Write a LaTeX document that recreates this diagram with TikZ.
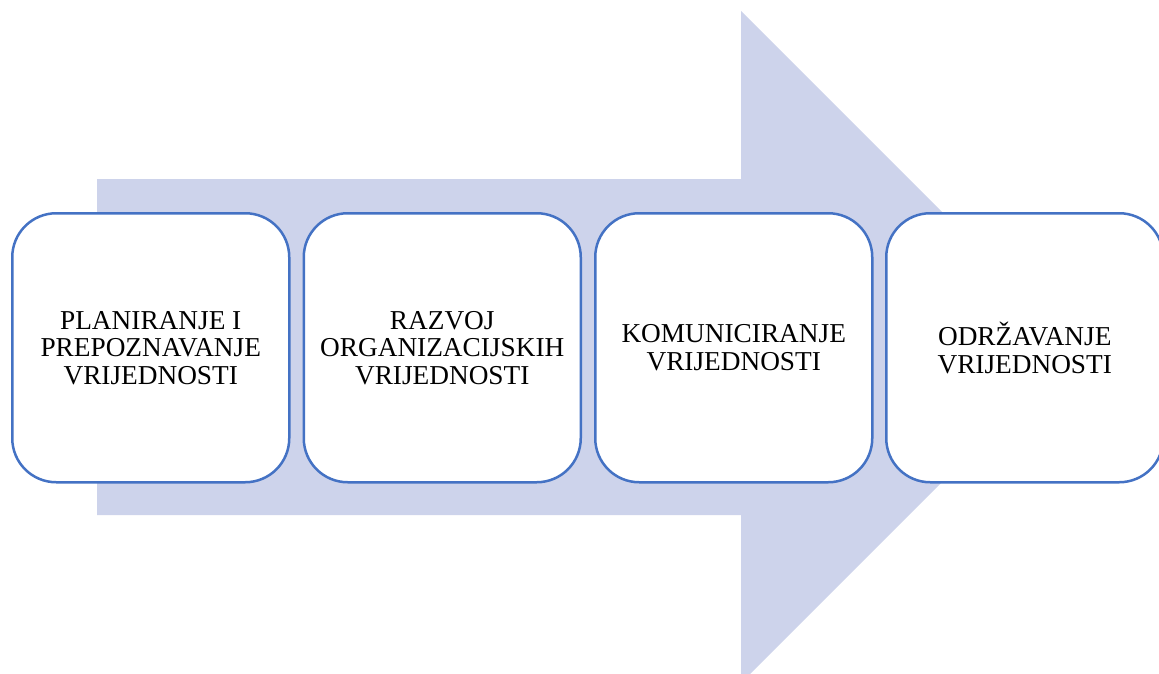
\documentclass[tikz,border=0pt]{standalone}
\usepackage{fontspec}
\setmainfont{Liberation Serif}
\begin{document}
\begin{tikzpicture}[x=1pt,y=-1pt,
  stagebox/.style={draw=boxblue, line width=2.5pt, fill=white, rounded corners=44pt,
    minimum width=277pt, minimum height=269pt, inner sep=0pt, align=center,
    font=\fontsize{27.3}{27.5}\selectfont, anchor=north west},
]
\definecolor{arrowfill}{RGB}{205,211,235}
\definecolor{boxblue}{RGB}{68,114,196}
\useasboundingbox (0,0) rectangle (1159,674);
\clip (0,0) rectangle (1159,674);
% big arrow
\fill[arrowfill] (97,179) -- (741,179) -- (741,11) -- (1077,347) -- (741,683) -- (741,515) -- (97,515) -- cycle;
% stages
\node[stagebox] (s1) at (11,212) {PLANIRANJE I\\PREPOZNAVANJE\\VRIJEDNOSTI};
\node[stagebox] (s2) at (302.5,212) {RAZVOJ\\ORGANIZACIJSKIH\\VRIJEDNOSTI};
\node[stagebox] (s3) at (594,212) {KOMUNICIRANJE\\VRIJEDNOSTI};
\node[stagebox] (s4) at (885,212) {ODRŽAVANJE\\VRIJEDNOSTI};
\end{tikzpicture}
\end{document}
